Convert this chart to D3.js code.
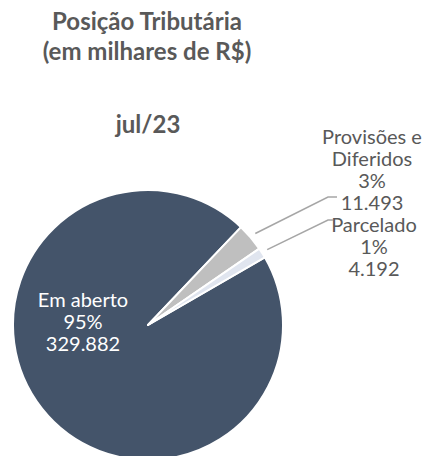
<!DOCTYPE html>
<html>
<head>
<meta charset="utf-8">
<script src="https://cdn.jsdelivr.net/npm/d3@7"></script>
<style>
  html, body { margin: 0; padding: 0; background: #fff; }
  svg { display: block; }
  text { font-family: Lato, "Open Sans", sans-serif; }
</style>
</head>
<body>
<svg id="chart" width="423" height="456"></svg>
<script>
// ---- data ----
const categories = ["Em aberto", "Provisões e Diferidos", "Parcelado"];
const labelLines = [["Em aberto"], ["Provisões e", "Diferidos"], ["Parcelado"]];
const values = [329882, 11493, 4192];
const percentLabels = ["95%", "3%", "1%"];
const valueLabels = ["329.882", "11.493", "4.192"];
const titleLines = ["Posição Tributária", "(em milhares de R$)"];
const subtitle = "jul/23";

// ---- layout ----
const cx = 148, cy = 325, R = 135;
const colors = d3.scaleOrdinal().domain(categories).range(["#44546A", "#BFBFBF", "#E0E5EF"]);
const svg = d3.select("#chart");

svg.append("g").selectAll("text").data(titleLines).join("text")
  .attr("x", 147).attr("y", (d, i) => 30 + i * 30)
  .attr("text-anchor", "middle").attr("font-weight", "bold")
  .attr("font-size", 24).attr("fill", "#595959").text(d => d);

svg.append("text").attr("x", 148).attr("y", 133)
  .attr("text-anchor", "middle").attr("font-weight", "bold")
  .attr("font-size", 24).attr("fill", "#595959").text(subtitle);

const pie = d3.pie().sort(null).value(d => d)
  .startAngle(59.9 * Math.PI / 180).endAngle((59.9 + 360) * Math.PI / 180);
const arcs = pie(values);
const arc = d3.arc().innerRadius(0).outerRadius(R);

const g = svg.append("g").attr("transform", `translate(${cx},${cy})`);
g.selectAll("path").data(arcs).join("path")
  .attr("d", arc)
  .attr("fill", (d, i) => colors(categories[i]))
  .attr("stroke", "#fff").attr("stroke-width", 2).attr("stroke-linejoin", "round");

// ---- labels ----
const lh = 22, fs = 20;
const inside = [labelLines[0][0], percentLabels[0], valueLabels[0]];
g.append("g").selectAll("text").data(inside).join("text")
  .attr("x", 83 - cx).attr("y", (d, i) => 307 - cy + i * lh)
  .attr("text-anchor", "middle").attr("font-size", fs).attr("fill", "#fff").text(d => d);

const outside = [
  { i: 1, x: 372, y0: 144, end: [337, 197], bendDx: 9 },
  { i: 2, x: 374, y0: 232, end: [333, 220], bendDx: 5 }
];
const pt = (a, r) => [Math.sin(a) * r, -Math.cos(a) * r];
outside.forEach(o => {
  const lines = [...labelLines[o.i], percentLabels[o.i], valueLabels[o.i]];
  svg.append("g").selectAll("text").data(lines).join("text")
    .attr("x", o.x).attr("y", (d, k) => o.y0 + k * lh)
    .attr("text-anchor", "middle").attr("font-size", fs).attr("fill", "#595959").text(d => d);
  const a = arcs[o.i];
  const mid = (a.startAngle + a.endAngle) / 2;
  const s = pt(mid, R + 6);
  const p0 = [cx + s[0], cy + s[1]];
  const bend = [o.end[0] - o.bendDx, o.end[1]];
  svg.append("polyline")
    .attr("points", [p0, bend, o.end].map(p => p.join(",")).join(" "))
    .attr("fill", "none").attr("stroke", "#A6A6A6").attr("stroke-width", 1.5);
});
</script>
</body>
</html>
